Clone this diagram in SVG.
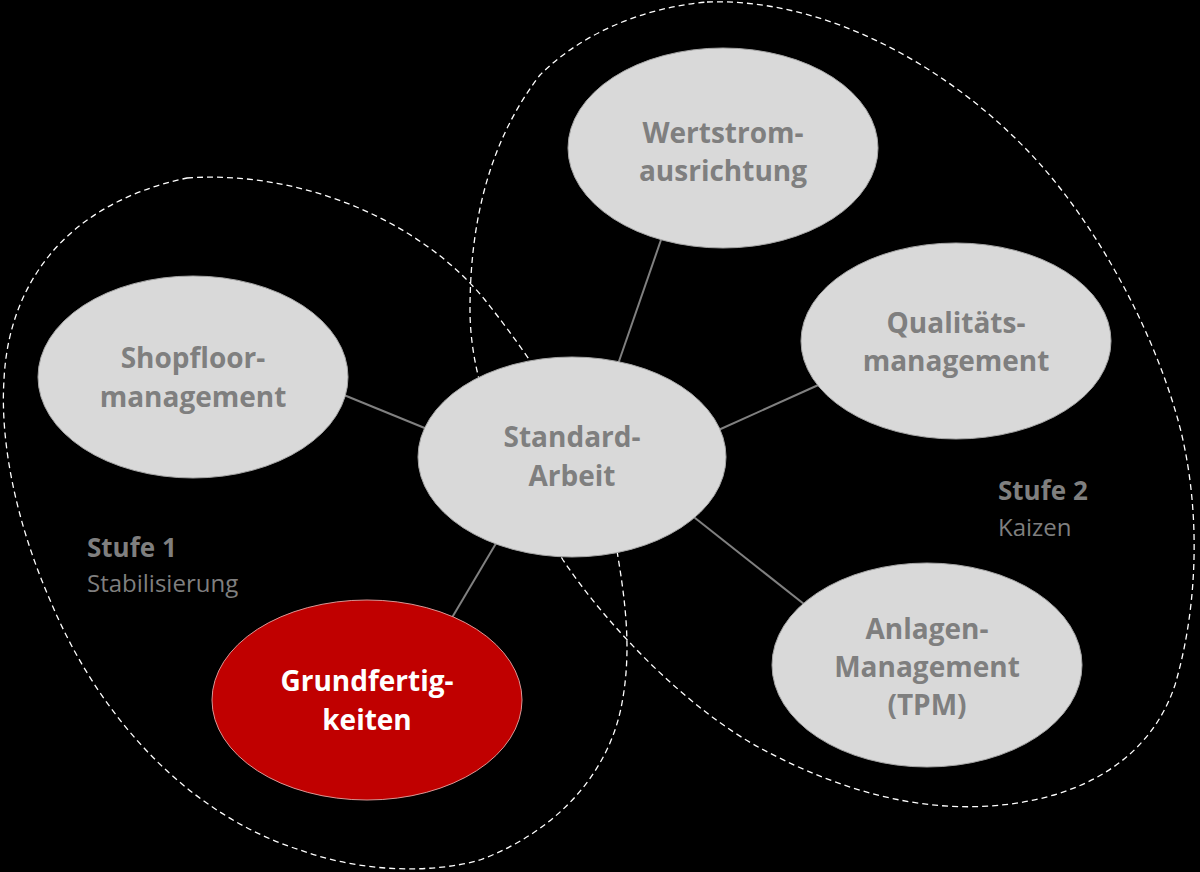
<svg xmlns="http://www.w3.org/2000/svg" width="1200" height="872" viewBox="0 0 1200 872">
<style>
.bg{fill:#000}
.zone{fill:none;stroke:#ffffff;stroke-width:1.3;stroke-dasharray:6 4}
.link{stroke:#808080;stroke-width:2}
.node{fill:#d9d9d9;stroke:#a6a6a6;stroke-width:1}
.hot{fill:#c00000;stroke:#d99694;stroke-width:1}
.t{font-family:"Open Sans","Liberation Sans",sans-serif;font-weight:700;font-size:28px;fill:#7f7f7f;text-anchor:middle}
.tw{fill:#ffffff}
.lb{font-family:"Open Sans","Liberation Sans",sans-serif;font-weight:700;font-size:26px;fill:#7f7f7f}
.ls{font-family:"Open Sans","Liberation Sans",sans-serif;font-weight:400;font-size:24px;fill:#7f7f7f}
</style>
<rect class="bg" width="1200" height="872"/>
<g id="zones">
<path id="stufe1-zone" class="zone" d="M187,178 C300,170 420,220 485,300 C545,375 605,470 618,557 C625,600 632,650 622,703 C610,770 560,830 480,860 C430,874 360,872 300,850 C190,815 100,720 50,600 C15,520 0,440 4,380 C8,290 60,205 187,178 Z"/>
<path id="stufe2-zone" class="zone" d="M707,2 C820,-2 940,60 1027,150 C1090,215 1150,320 1178,420 C1200,500 1200,600 1175,685 C1150,760 1080,800 990,806 C900,812 820,780 760,748 C690,710 610,630 563,560 C520,490 470,400 470,310 C470,220 490,140 540,75 C580,35 640,8 707,2 Z"/>
</g>
<g id="labels">
<text class="lb" x="87" y="557">Stufe 1</text>
<text class="ls" x="87" y="592">Stabilisierung</text>
<text class="lb" x="998" y="500">Stufe 2</text>
<text class="ls" x="998" y="536">Kaizen</text>
</g>
<g id="connectors">
<line class="link" x1="339" y1="393" x2="432" y2="431"/>
<line class="link" x1="662" y1="237" x2="617" y2="367"/>
<line class="link" x1="825" y1="382" x2="714" y2="432"/>
<line class="link" x1="690" y1="514" x2="809" y2="608"/>
<line class="link" x1="498" y1="540" x2="450" y2="621"/>
</g>
<g id="wertstrom">
<ellipse class="node" cx="723" cy="148" rx="155" ry="100"/>
<text class="t" x="723" y="143">Wertstrom-</text>
<text class="t" x="723" y="181">ausrichtung</text>
</g>
<g id="qualitaet">
<ellipse class="node" cx="956" cy="341" rx="155" ry="98"/>
<text class="t" x="956" y="333">Qualitäts-</text>
<text class="t" x="956" y="371">management</text>
</g>
<g id="shopfloor">
<ellipse class="node" cx="193" cy="377" rx="155" ry="101"/>
<text class="t" x="193" y="368">Shopfloor-</text>
<text class="t" x="193" y="407">management</text>
</g>
<g id="standard">
<ellipse class="node" cx="572" cy="457" rx="154" ry="100"/>
<text class="t" x="572" y="447">Standard-</text>
<text class="t" x="572" y="486">Arbeit</text>
</g>
<g id="anlagen">
<ellipse class="node" cx="927" cy="665" rx="155" ry="102"/>
<text class="t" x="927" y="639">Anlagen-</text>
<text class="t" x="927" y="677">Management</text>
<text class="t" x="927" y="715">(TPM)</text>
</g>
<g id="grundfertig">
<ellipse class="hot" cx="367" cy="700" rx="155" ry="100"/>
<text class="t tw" x="367" y="691">Grundfertig-</text>
<text class="t tw" x="367" y="730">keiten</text>
</g>
</svg>
